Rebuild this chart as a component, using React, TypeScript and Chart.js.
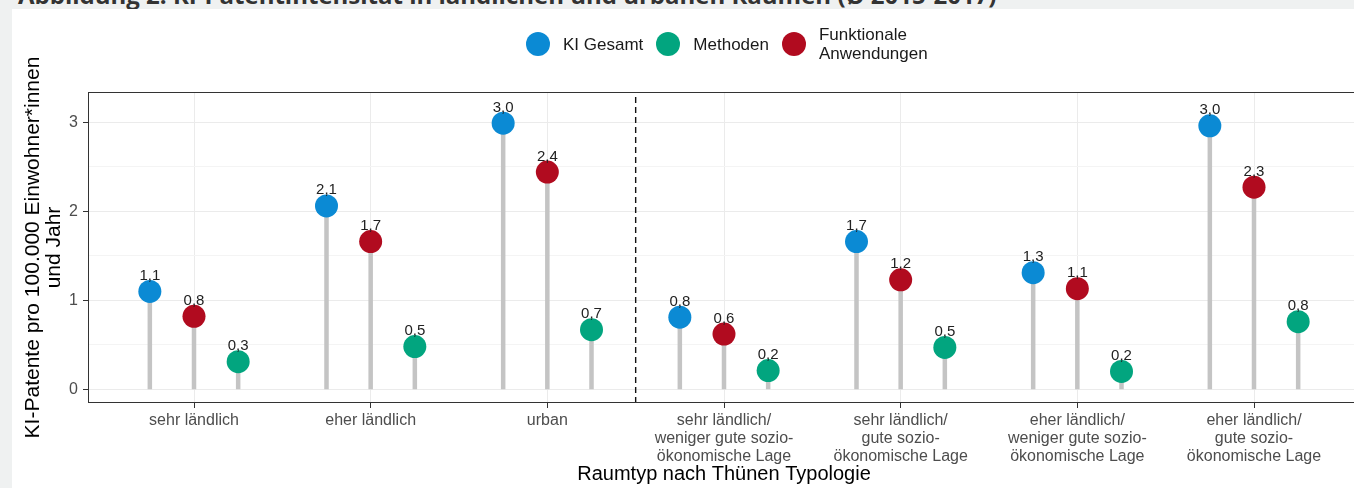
import React, { useEffect, useRef } from "react";
import { Chart, registerables } from "chart.js";

Chart.register(...registerables);

// ---------- data ----------
const categories: string[][] = [
  ["sehr ländlich"],
  ["eher ländlich"],
  ["urban"],
  ["sehr ländlich/", "weniger gute sozio-", "ökonomische Lage"],
  ["sehr ländlich/", "gute sozio-", "ökonomische Lage"],
  ["eher ländlich/", "weniger gute sozio-", "ökonomische Lage"],
  ["eher ländlich/", "gute sozio-", "ökonomische Lage"],
];
const kiGesamt = [1.1, 2.06, 2.99, 0.81, 1.66, 1.31, 2.96];
const methoden = [0.31, 0.48, 0.67, 0.21, 0.47, 0.2, 0.76];
const funktionaleAnwendungen = [0.82, 1.66, 2.44, 0.62, 1.23, 1.13, 2.27];
const yTickValues = [0, 0.5, 1, 1.5, 2, 2.5, 3];
const seriesNames = ["KI Gesamt", "Methoden", "Funktionale Anwendungen"];
const chartTitle = "Abbildung 2: KI-Patentintensität in ländlichen und urbanen Räumen (Ø 2015-2017)";
const xTitle = "Raumtyp nach Thünen Typologie";
const yTitle = ["KI-Patente pro 100.000 Einwohner*innen", "und Jahr"];

// ---------- styling ----------
const FONT = '"Liberation Sans", Arial, Helvetica, sans-serif';
const COLORS = ["#0b8ad4", "#02a57f", "#b10b1f"];
const DODGE = [-0.25, 0.25, 0]; // KI left, Methoden right, Funktionale center
const Y_MIN = -0.154;
const Y_MAX = 3.34;
const DIVIDER_X = 2.5; // between "urban" and the socio-economic groups

const seriesValues = [kiGesamt, methoden, funktionaleAnwendungen];

const framePlugin = {
  id: "panelFrame",
  afterDatasetsDraw(chart: any) {
    const { ctx, chartArea } = chart;
    ctx.save();
    ctx.strokeStyle = "#333333";
    ctx.lineWidth = 1;
    ctx.strokeRect(
      Math.round(chartArea.left) + 0.5,
      Math.round(chartArea.top) + 0.5,
      Math.round(chartArea.right - chartArea.left) - 1,
      Math.round(chartArea.bottom - chartArea.top) - 1
    );
    ctx.restore();
  },
};

const valueLabelPlugin = {
  id: "valueLabels",
  afterDatasetsDraw(chart: any) {
    const { ctx } = chart;
    ctx.save();
    ctx.font = `15px ${FONT}`;
    ctx.fillStyle = "#222222";
    ctx.textAlign = "center";
    ctx.textBaseline = "alphabetic";
    chart.data.datasets.forEach((ds: any, di: number) => {
      if (!ds.showValues) return;
      const meta = chart.getDatasetMeta(di);
      meta.data.forEach((el: any, i: number) => {
        const v = ds.data[i].y as number;
        ctx.fillText(v.toFixed(1).replace(".", ","), el.x, el.y - 11.5);
      });
    });
    ctx.restore();
  },
};

export default function App() {
  const ref = useRef<HTMLCanvasElement>(null);

  useEffect(() => {
    if (!ref.current) return;

    const stemDatasets = seriesValues.map((vals, s) => ({
      type: "line" as const,
      data: vals.flatMap((v, i) => [
        { x: i + DODGE[s], y: 0 },
        { x: i + DODGE[s], y: v },
        { x: i + DODGE[s], y: null },
      ]),
      borderColor: "#c4c4c4",
      borderWidth: 4.5,
      borderCapStyle: "butt",
      pointRadius: 0,
      pointHoverRadius: 0,
      spanGaps: false,
      tension: 0,
      order: 2,
    }));

    const pointDatasets = seriesValues.map((vals, s) => ({
      type: "scatter" as const,
      label: seriesNames[s],
      data: vals.map((v, i) => ({ x: i + DODGE[s], y: v })),
      backgroundColor: COLORS[s],
      borderColor: COLORS[s],
      borderWidth: 0,
      pointRadius: 11.5,
      pointHoverRadius: 11.5,
      showValues: true,
      order: 0,
    }));

    const dividerDataset = {
      type: "line" as const,
      data: [
        { x: DIVIDER_X, y: Y_MIN },
        { x: DIVIDER_X, y: Y_MAX },
      ],
      borderColor: "#111111",
      borderWidth: 1.4,
      borderDash: [6, 4],
      pointRadius: 0,
      pointHoverRadius: 0,
      order: 3,
    };

    const chart = new Chart(ref.current, {
      type: "scatter",
      data: { datasets: [...pointDatasets, ...stemDatasets, dividerDataset] as any },
      options: {
        animation: false,
        responsive: false,
        devicePixelRatio: 1,
        events: [],
        layout: { padding: { left: 0, top: 92, right: 40, bottom: 0 } },
        plugins: {
          legend: { display: false },
          tooltip: { enabled: false },
        },
        scales: {
          x: {
            type: "linear",
            position: "bottom",
            min: -0.6,
            max: categories.length - 0.4,
            afterBuildTicks: (scale: any) => {
              scale.ticks = categories.map((_, i) => ({ value: i }));
            },
            afterFit: (scale: any) => {
              scale.height = 85;
            },
            ticks: {
              autoSkip: false,
              maxRotation: 0,
              minRotation: 0,
              padding: 3,
              color: "#4d4d4d",
              font: { family: FONT, size: 16, lineHeight: 1.15 },
              callback: (v: any) => categories[Math.round(Number(v))] ?? "",
            },
            grid: {
              color: "#ebebeb",
              lineWidth: 1,
              tickColor: "#333333",
              tickLength: 5,
            },
            border: { display: false },
            title: {
              display: true,
              text: xTitle,
              color: "#000000",
              font: { family: FONT, size: 20, lineHeight: 1.2 },
              padding: { top: 0, bottom: 2 },
            },
          },
          y: {
            type: "linear",
            min: Y_MIN,
            max: Y_MAX,
            afterBuildTicks: (scale: any) => {
              scale.ticks = yTickValues.map((v) => ({ value: v }));
            },
            afterFit: (scale: any) => {
              scale.width = 88;
            },
            ticks: {
              padding: 5,
              color: "#4d4d4d",
              font: { family: FONT, size: 16 },
              callback: (v: any) => (Number(v) % 1 === 0 ? String(v) : ""),
            },
            grid: {
              color: (c: any) => (c.tick && c.tick.value % 1 !== 0 ? "#f4f4f4" : "#ebebeb"),
              lineWidth: 1,
              tickColor: (c: any) => (c.tick && c.tick.value % 1 !== 0 ? "rgba(0,0,0,0)" : "#333333"),
              tickLength: 5,
            },
            border: { display: false },
            title: {
              display: true,
              text: yTitle,
              color: "#000000",
              font: { family: FONT, size: 21, lineHeight: 1 },
              padding: { top: 22.5, bottom: 0 },
            },
          },
        },
      } as any,
      plugins: [framePlugin, valueLabelPlugin],
    });

    return () => chart.destroy();
  }, []);

  return (
    <div
      style={{
        position: "fixed",
        left: 0,
        top: 0,
        width: 1354,
        height: 488,
        overflow: "hidden",
        background: "#eff1f1",
      }}
    >
      <div
        style={{
          position: "absolute",
          left: 18,
          top: -19,
          fontFamily: '"Open Sans", sans-serif',
          fontWeight: 700,
          fontSize: 24,
          lineHeight: "28px",
          color: "#333333",
          whiteSpace: "nowrap",
        }}
      >
        {chartTitle}
      </div>
      <div
        style={{
          position: "absolute",
          left: 12,
          top: 9,
          right: 0,
          bottom: 0,
          background: "#ffffff",
        }}
      />
      <canvas
        ref={ref}
        width={1400}
        height={488}
        style={{ position: "absolute", left: 0, top: 0, width: 1400, height: 488 }}
      />
      <div
        style={{
          position: "absolute",
          left: 6,
          top: 24,
          width: 1448,
          height: 40,
          display: "flex",
          justifyContent: "center",
          alignItems: "center",
          fontFamily: FONT,
          fontSize: 17,
          lineHeight: "19px",
          color: "#1a1a1a",
        }}
      >
        {seriesNames.map((name, s) => (
          <div
            key={name}
            style={{ display: "flex", alignItems: "center", marginRight: s < seriesNames.length - 1 ? 13 : 0 }}
          >
            <div
              style={{
                width: 24,
                height: 24,
                borderRadius: "50%",
                background: COLORS[s],
                flex: "0 0 auto",
              }}
            />
            <div style={{ marginLeft: 13, maxWidth: 115 }}>{name}</div>
          </div>
        ))}
      </div>
    </div>
  );
}
